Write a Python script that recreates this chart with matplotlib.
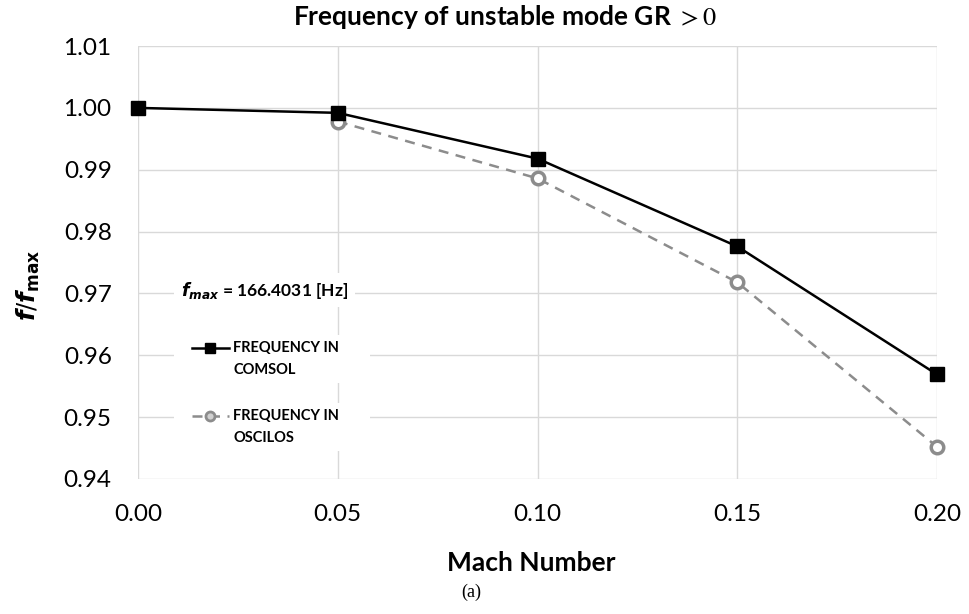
import numpy as np
import matplotlib
matplotlib.use('Agg')
from matplotlib import pyplot as plt

plt.rcParams['font.family'] = ['Lato', 'DejaVu Sans']
plt.rcParams['mathtext.fontset'] = 'dejavusans'

# Mach numbers and normalised frequencies
mach = [0.00, 0.05, 0.10, 0.15, 0.20]
freq_comsol = [1.0000, 0.9992, 0.9918, 0.9776, 0.9569]
mach_oscilos = [0.05, 0.10, 0.15, 0.20]
freq_oscilos = [0.9978, 0.9886, 0.9718, 0.9452]

x_ticks = [0.00, 0.05, 0.10, 0.15, 0.20]
y_ticks = [0.94, 0.95, 0.96, 0.97, 0.98, 0.99, 1.00, 1.01]
legend_labels = ['FREQUENCY IN\nCOMSOL', 'FREQUENCY IN\nOSCILOS']

GREY = '#8c8c8c'

fig = plt.figure(figsize=(9.7, 6.14), dpi=100)
ax = fig.add_axes([0.1423, 0.2199, 0.966 - 0.1423, 0.925 - 0.2199])

ax.plot(mach, freq_comsol, color='black', lw=1.8, marker='s', ms=10,
        clip_on=False, zorder=4)
ax.plot(mach_oscilos, freq_oscilos, color=GREY, lw=1.8, ls=(0, (4, 3)),
        marker='o', ms=9, mfc='white', mec=GREY, mew=2.5, clip_on=False, zorder=3)

ax.set_xlim(0, 0.20)
ax.set_ylim(0.94, 1.01)
ax.set_xticks(x_ticks)
ax.set_xticklabels(['%.2f' % v for v in x_ticks])
ax.set_yticks(y_ticks)
ax.set_yticklabels(['%.2f' % v for v in y_ticks])
ax.tick_params(length=0, labelsize=17.5)
ax.tick_params(axis='x', pad=18)
ax.tick_params(axis='y', pad=19)
ax.grid(True, color='#d9d9d9', lw=1)
ax.set_axisbelow(True)
for s in ax.spines.values():
    s.set_visible(False)

# titles / axis labels placed by hand like the original
fig.text(0.52, 0.972, r'Frequency of unstable mode GR $> 0$', ha='center', va='center',
         fontsize=19, fontweight='bold', math_fontfamily='stix')
fig.text(0.029, 0.536, r'$\mathbfit{f}/\mathbfit{f}_{\mathbf{max}}$', rotation=90,
         ha='center', va='center', fontsize=17.5)
fig.text(0.548, 0.083, 'Mach Number', ha='center', va='center', fontsize=19, fontweight='bold')
fig.text(0.486, 0.036, '(a)', ha='center', va='center', fontsize=13, family='Liberation Serif')

ax.text(0.054, 0.4365, r'$\mathbfit{f}_{\mathbfit{max}}$ = 166.4031 [Hz]', transform=ax.transAxes,
        fontsize=12.5, fontweight='bold', va='center', ha='left',
        bbox=dict(facecolor='white', edgecolor='none', pad=5))

# legend drawn by hand (axes coords)
leg_y = [0.3025, 0.1455]
line_gap = 0.051
ax.plot([0.0676, 0.1139], [leg_y[0]] * 2, transform=ax.transAxes, color='black', lw=1.8,
        clip_on=False, zorder=5)
ax.plot([0.0905], [leg_y[0]], transform=ax.transAxes, color='black', marker='s', ms=7,
        clip_on=False, zorder=6)
ax.plot([0.0676, 0.1139], [leg_y[1]] * 2, transform=ax.transAxes, color=GREY, lw=1.8,
        ls=(0, (4, 3)), clip_on=False, zorder=5)
ax.plot([0.0905], [leg_y[1]], transform=ax.transAxes, color=GREY, marker='o', ms=6.5,
        mfc='#d0d0d0', mec=GREY, mew=2, clip_on=False, zorder=6)
for label, y in zip(legend_labels, leg_y):
    ax.add_patch(plt.Rectangle((0.045, y - line_gap - 0.03), 0.245, line_gap + 0.06,
                               transform=ax.transAxes, facecolor='white', edgecolor='none',
                               zorder=2))
    for i, line in enumerate(label.split('\n')):
        ax.text(0.1189, y - i * line_gap, line, transform=ax.transAxes, fontsize=10.5,
                fontweight='bold', va='center', ha='left', zorder=6)

fig.savefig('out.png', dpi=100)
